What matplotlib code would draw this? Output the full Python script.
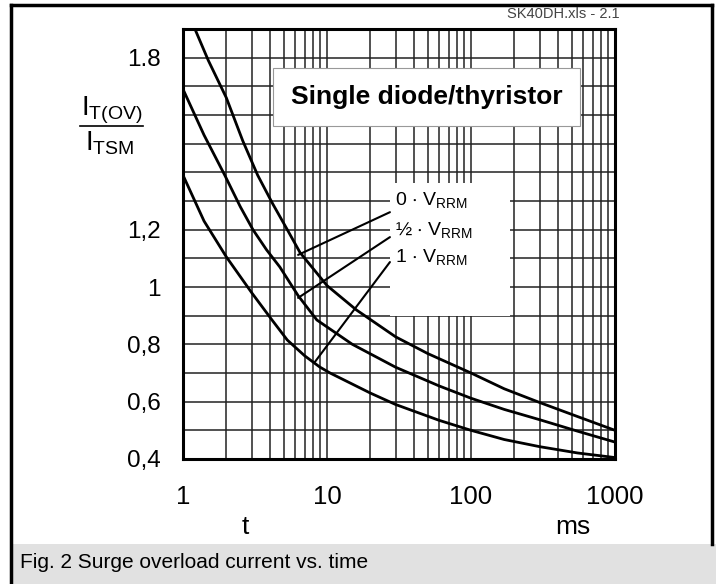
import matplotlib
matplotlib.use('Agg')
from matplotlib import pyplot as plt
from matplotlib.patches import Rectangle
from matplotlib.lines import Line2D
from matplotlib.ticker import LogLocator, MultipleLocator, NullFormatter

plt.rcParams['font.family'] = ['Liberation Sans', 'DejaVu Sans']
plt.rcParams['mathtext.default'] = 'regular'

# curves (t in ms, I_T(OV)/I_TSM)
t_0v = [1.0, 1.21, 1.5, 2.0, 2.6, 3.3, 4.2, 5.3, 6.5, 10, 16, 30, 50, 100, 170, 300, 550, 1000]
i_0v = [1.99, 1.90, 1.79, 1.66, 1.51, 1.39, 1.29, 1.20, 1.12, 1.005, 0.92, 0.826, 0.768, 0.70, 0.645, 0.597, 0.548, 0.50]

t_half = [1.0, 1.4, 1.95, 2.5, 3.06, 3.8, 4.7, 6.3, 8.5, 15, 30, 60, 100, 170, 300, 550, 1000]
i_half = [1.69, 1.53, 1.39, 1.28, 1.20, 1.13, 1.07, 0.97, 0.885, 0.80, 0.72, 0.655, 0.612, 0.573, 0.537, 0.497, 0.459]

t_full = [1.0, 1.4, 2.0, 3.0, 4.15, 5.3, 7.0, 8.9, 10.5, 20, 30, 60, 100, 170, 300, 550, 1000]
i_full = [1.39, 1.23, 1.105, 0.98, 0.885, 0.815, 0.76, 0.721, 0.70, 0.63, 0.59, 0.535, 0.50, 0.468, 0.443, 0.421, 0.405]

y_ticks = [0.4, 0.6, 0.8, 1.0, 1.2, 1.8]
y_labels = ['0,4', '0,6', '0,8', '1', '1,2', '1.8']
x_ticks = [1, 10, 100, 1000]
x_labels = ['1', '10', '100', '1000']

curve_labels = [r'0 $\cdot$ V$_{RRM}$', r'½ $\cdot$ V$_{RRM}$', r'1 $\cdot$ V$_{RRM}$']
# where each leader line touches its curve
leader_pts = [(6.3, 1.112), (6.3, 0.962), (8.25, 0.739)]

W, H = 716, 584
def fx(px): return px / W
def fy(py): return 1 - py / H

fig = plt.figure(figsize=(W / 100, H / 100), dpi=100)

# outer frame + caption bar
fig.patches.append(Rectangle((fx(11), 0), 1 - fx(11), fy(544), transform=fig.transFigure,
                             facecolor='#e1e1e1', edgecolor='none'))
for xs, ys in [((11, 11), (5, 584)), ((11, 712), (5, 5)), ((712, 712), (5, 544))]:
    fig.lines.append(Line2D([fx(x) for x in xs], [fy(y) for y in ys], transform=fig.transFigure,
                            color='black', lw=2.5))

fig.text(fx(20), fy(563), 'Fig. 2 Surge overload current vs. time', fontsize=15, va='center', ha='left')
fig.text(fx(620), fy(14), 'SK40DH.xls - 2.1', fontsize=10.5, color='#444444', ha='right', va='center')

ax = fig.add_axes([fx(183), fy(459), (615 - 183) / W, (459 - 29) / H])
ax.set_xscale('log')
ax.set_xlim(1, 1000)
ax.set_ylim(0.4, 1.9)

ax.set_xticks(x_ticks)
ax.set_xticklabels(x_labels, fontsize=18.5)
ax.xaxis.set_minor_locator(LogLocator(base=10, subs=range(2, 10)))
ax.xaxis.set_minor_formatter(NullFormatter())
ax.set_yticks(y_ticks)
ax.set_yticklabels(y_labels, fontsize=17.5)
ax.yaxis.set_minor_locator(MultipleLocator(0.1))
ax.tick_params(which='both', length=0)
ax.tick_params(axis='x', pad=19)
ax.tick_params(axis='y', pad=16)
ax.set_axisbelow(True)
ax.grid(which='both', color='#222222', lw=1.1)
for s in ax.spines.values():
    s.set_linewidth(2.2)

for t, i in [(t_0v, i_0v), (t_half, i_half), (t_full, i_full)]:
    ax.plot(t, i, color='black', lw=2.0, zorder=4, clip_on=True)

# white label boxes over the grid
ax.add_patch(Rectangle((0.208, 0.774), 0.711, 0.135, transform=ax.transAxes,
                       facecolor='white', edgecolor='#999999', lw=0.8, zorder=2))
ax.text(0.565, 0.842, 'Single diode/thyristor', transform=ax.transAxes, fontsize=19,
        fontweight='bold', ha='center', va='center', zorder=3)
ax.add_patch(Rectangle((0.479, 0.333), 0.278, 0.309, transform=ax.transAxes,
                       facecolor='white', edgecolor='none', zorder=2))

lab_y = [0.602, 0.533, 0.470]
lead_y = [0.574, 0.516, 0.458]
for lab, ly, ay, pt in zip(curve_labels, lab_y, lead_y, leader_pts):
    ax.text(0.491, ly, lab, transform=ax.transAxes, fontsize=14, ha='left', va='center', zorder=3)
    ax.annotate('', xy=pt, xycoords='data', xytext=(0.479, ay), textcoords='axes fraction',
                arrowprops=dict(arrowstyle='-', color='black', lw=1.5, shrinkA=0, shrinkB=0),
                zorder=3)

# y label as fraction
fig.text(fx(112), fy(110), r'I$_{T(OV)}$', fontsize=20, ha='center', va='center')
fig.lines.append(Line2D([fx(80), fx(143)], [fy(126), fy(126)], transform=fig.transFigure,
                        color='black', lw=1.2))
fig.text(fx(110), fy(143), r'I$_{TSM}$', fontsize=20, ha='center', va='center')

fig.text(fx(245), fy(527), 't', fontsize=19, ha='center', va='center')
fig.text(fx(573), fy(527), 'ms', fontsize=19, ha='center', va='center')

fig.savefig('out.png', dpi=100)
